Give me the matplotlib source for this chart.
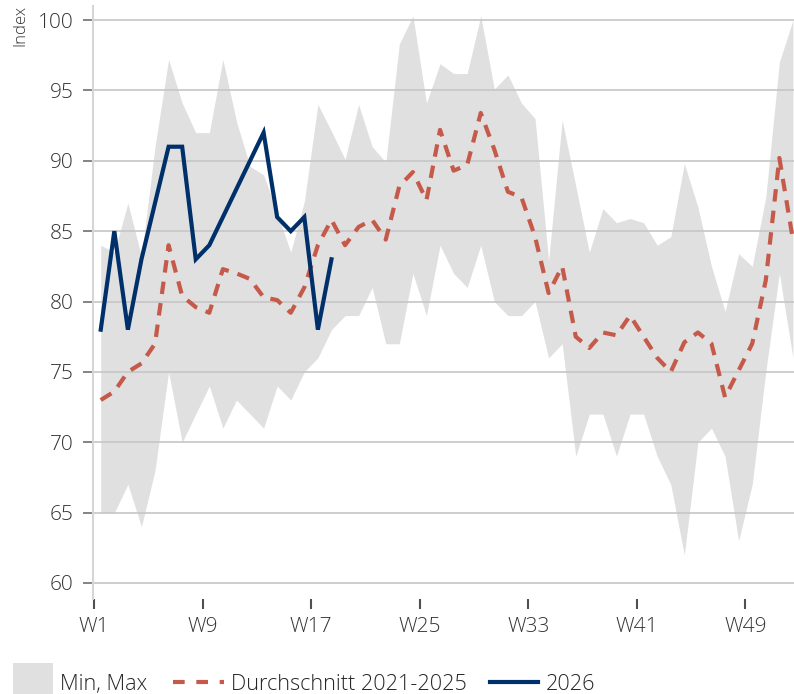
import matplotlib
matplotlib.use("Agg")
import matplotlib.pyplot as plt
from matplotlib.patches import Rectangle
from matplotlib.lines import Line2D

plt.rcParams['font.family'] = ['Open Sans', 'DejaVu Sans']

weeks = list(range(1, 53))
week_labels = ["W1", "W9", "W17", "W25", "W33", "W41", "W49"]
week_label_pos = [1, 9, 17, 25, 33, 41, 49]

max_vals = [84, 83.5, 87, 83.2, 91, 97.2, 94.1, 92, 92, 97.2, 92.8, 89.6, 89, 86.3,
            83.5, 87.1, 94, 92.1, 90.1, 94, 91, 89.9, 98.3, 100.3, 94.1, 96.9, 96.2,
            96.2, 100.3, 95.1, 96.1, 94.1, 93, 82.9, 92.9, 88.2, 83.5, 86.6, 85.6, 85.9,
            85.6, 84, 84.6, 89.8, 86.7, 82.5, 79.3, 83.4, 82.5, 87.4, 97, 100]
min_vals = [65, 65, 67, 64, 68, 75, 70, 72, 74, 71, 73, 72, 71, 74, 73, 75, 76, 78,
            79, 79, 81, 77, 77, 82, 79, 84, 82, 81, 84, 80, 79, 79, 80, 76, 77, 69, 72,
            72, 69, 72, 72, 69, 67, 62, 70, 71, 69, 63, 67, 75, 82, 76]
avg_vals = [73.0, 73.6, 75.0, 75.6, 77.0, 84.0, 80.4, 79.6, 79.2, 82.3, 82.0, 81.6,
            80.3, 80.1, 79.2, 81.0, 84.0, 85.8, 84.0, 85.3, 85.8, 84.4, 88.2, 89.2,
            87.2, 92.2, 89.3, 89.7, 93.4, 90.8, 87.8, 87.4, 84.6, 80.6, 82.5, 77.5,
            76.7, 77.8, 77.6, 79.0, 77.5, 76.0, 75.0, 77.1, 77.8, 77.0, 73.2, 75.1,
            77.0, 81.5, 90.2, 84.4]
vals_2026 = [78, 85, 78, 83, 87, 91, 91, 83, 84, 86, 88, 90, 92, 86, 85, 86, 78, 83]

y_ticks = [60, 65, 70, 75, 80, 85, 90, 95, 100]

band_color = "#e0e0e0"
avg_color = "#c55a4a"
cur_color = "#00306a"
text_color = "#333333"

W, H = 794, 694
fig = plt.figure(figsize=(W / 100, H / 100), dpi=100)
ax = fig.add_axes([93 / W, (H - 599) / H, 1 - 93 / W, (599 - 6) / H])

ax.fill_between(weeks, min_vals, max_vals, color=band_color, lw=0, zorder=0.1)
ax.plot(weeks, avg_vals, color=avg_color, lw=3, dashes=(3.0, 2.2),
        dash_capstyle='butt', zorder=3)
ax.plot(weeks[:len(vals_2026)], vals_2026, color=cur_color, lw=3,
        solid_joinstyle='miter', zorder=4)

ax.set_xlim(0.43, 52.08)
ax.set_ylim(58.86, 101)
ax.set_yticks(y_ticks)
ax.set_xticks([p - 0.5 for p in week_label_pos])
ax.set_xticklabels(week_labels)
ax.set_axisbelow(True)
ax.yaxis.grid(True, color="#c6c6c6", lw=1.2)
ax.xaxis.grid(False)
for s in ["top", "right", "bottom"]:
    ax.spines[s].set_visible(False)
ax.spines["left"].set_color("#d6d6d6")
ax.spines["left"].set_linewidth(1.5)
ax.tick_params(axis='y', length=7, width=1.2, color="#707070", pad=7,
               labelsize=15, labelcolor=text_color)
ax.tick_params(axis='x', length=7, width=1.5, color="#505050", pad=6,
               labelsize=15, labelcolor=text_color)
for lab in ax.get_xticklabels() + ax.get_yticklabels():
    lab.set_fontweight('light')

fig.text(20 / W, 1 - 26 / H, "Index", rotation=90, ha='center', va='center',
         fontsize=12, color=text_color, fontweight='light')

# legend strip
lax = fig.add_axes([0, 0, 1, 54 / H])
lax.set_xlim(0, W)
lax.set_ylim(694, 640)
lax.axis('off')
lax.add_patch(Rectangle((13, 663), 40, 40, color=band_color, lw=0))
lax.text(60, 690, "Min, Max", fontsize=15.6, color="#262626", va='baseline',
         fontweight='light')
lax.add_line(Line2D([173, 224], [682, 682], color=avg_color, lw=3,
                    dashes=(2.8, 2.8), dash_capstyle='butt'))
lax.text(231, 690, "Durchschnitt 2021-2025", fontsize=15.6, color="#262626",
         va='baseline', fontweight='light')
lax.add_line(Line2D([490, 538], [682, 682], color=cur_color, lw=3))
lax.text(546, 690, "2026", fontsize=15.6, color="#262626", va='baseline',
         fontweight='light')

fig.savefig("out.png", dpi=100)
